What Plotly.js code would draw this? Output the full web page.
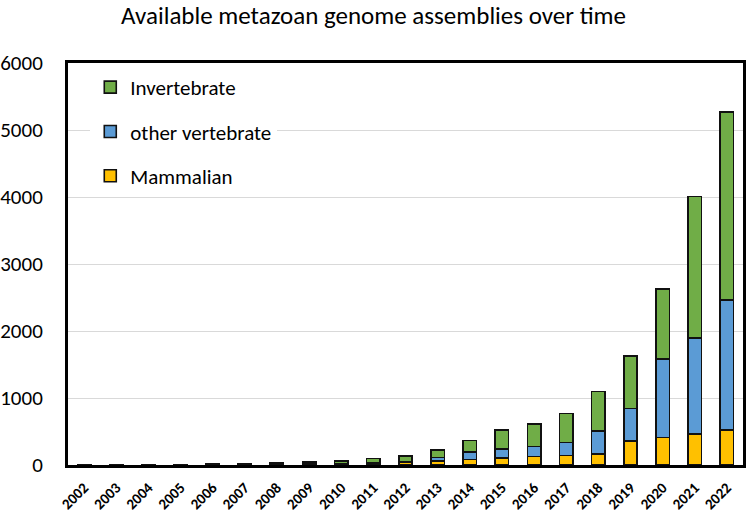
<!DOCTYPE html>
<html>
<head>
<meta charset="utf-8">
<script src="https://cdn.plot.ly/plotly-3.0.1.min.js"></script>
<style>html,body{margin:0;padding:0;background:#fff;}#chart{width:747px;height:515px;}</style>
</head>
<body>
<div id="chart"></div>
<script>
const years = ["2002","2003","2004","2005","2006","2007","2008","2009","2010","2011","2012","2013","2014","2015","2016","2017","2018","2019","2020","2021","2022"];
const mammalian = [1,1,2,2,5,8,10,12,15,20,35,60,85,105,125,140,165,360,410,460,520];
const otherVertebrate = [0,0,0,1,2,3,5,6,8,10,15,50,110,130,150,195,340,485,1175,1435,1945];
const invertebrate = [0,0,1,1,5,10,15,25,35,70,85,115,170,285,340,435,595,780,1040,2115,2805];
const yTicks = [0,1000,2000,3000,4000,5000,6000];

const FONT = "Carlito, Calibri, Lato, 'Open Sans', sans-serif";
function tr(name, vals, color, grp, rank){
  return {type:'bar', name:name, x:years, y:vals, legendgroup:grp, legendrank:rank,
    marker:{color:color, line:{color:'#111', width:1.6}}};
}
const data = [
  tr('Mammalian', mammalian, '#FFC000', 'a', 3),
  tr('other vertebrate', otherVertebrate, '#5B9BD5', 'b', 2),
  tr('Invertebrate', invertebrate, '#70AD47', 'c', 1)
];
const layout = {
  width:747, height:515,
  margin:{l:68, r:4, t:63, b:50, pad:0},
  paper_bgcolor:'#fff', plot_bgcolor:'#fff',
  font:{family:FONT, color:'#000'},
  barmode:'stack', bargap:0.58,
  title:{text:'Available metazoan genome assemblies over time', font:{size:25, family:FONT, color:'#000'},
    x:0.5, xanchor:'center', y:0.97, yanchor:'middle', yref:'container'},
  xaxis:{type:'category', tickangle:-45, tickfont:{size:15, weight:'bold', family:FONT},
    showline:true, linewidth:3, linecolor:'#000', mirror:true, ticks:'', showgrid:false, ticklabelstandoff:5},
  yaxis:{range:[0,6000], tickvals:yTicks, tickfont:{size:21, family:FONT},
    showline:true, linewidth:3, linecolor:'#000', mirror:true, ticks:'', ticklabelstandoff:18,
    showgrid:true, gridcolor:'#d9d9d9', gridwidth:1, zeroline:false},
  legend:{x:0.033, xanchor:'left', y:0.99, yanchor:'top', traceorder:'grouped',
    tracegroupgap:14, bgcolor:'rgba(255,255,255,1)', font:{size:21, family:FONT}, entrywidth:215},
  showlegend:true
};
Plotly.newPlot('chart', data, layout, {staticPlot:true});
</script>
</body>
</html>
